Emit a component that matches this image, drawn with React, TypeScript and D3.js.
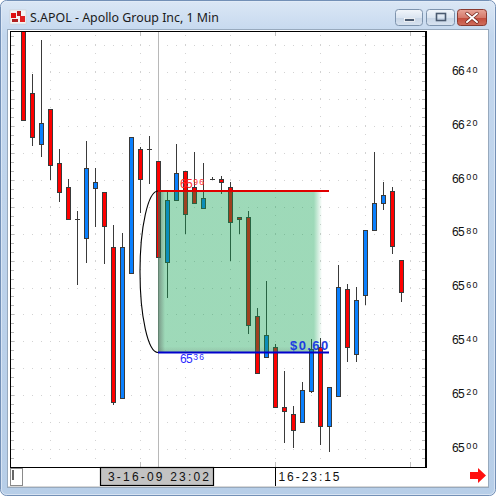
import React from "react";
import * as d3 from "d3";

// One-minute bars, S.APOL
const opens = [
  6662, 6632.2, 6613.2, 6626.2, 6606.2, 6597.2, 6585.4, 6578.3, 6597.1, 6595.4,
  6575.2, 6518.8, 6565.3, 6611.4, 6611.5, 6607.1, 6569.4, 6592.4, 6603.3, 6597.2,
  6589.4, 6600.2, 6600.2, 6597.2, 6586.1, 6586.1, 6549.4, 6534.1, 6538.0, 6515.7,
  6512.9, 6509.9, 6521.6, 6538.0, 6508.6, 6519.8, 6559.3, 6535.2, 6557.1, 6581.3,
  6591.3, 6596.0, 6570.1,
];
const highs = [
  6662, 6639.4, 6652.0, 6626.2, 6611.5, 6600.3, 6588.4, 6614.5, 6604.5, 6595.4,
  6583.2, 6580.1, 6616.1, 6612.3, 6616.3, 6607.1, 6595.5, 6613.3, 6603.3, 6610.3,
  6606.2, 6601.2, 6601.4, 6599.2, 6586.1, 6588.4, 6552.3, 6562.4, 6538.9, 6528.9,
  6516.0, 6524.8, 6540.7, 6541.1, 6522.9, 6568.4, 6561.3, 6560.2, 6581.3, 6610.3,
  6599.1, 6597.2, 6570.1,
];
const lows = [
  6622.3, 6613.0, 6609.0, 6600.2, 6592.3, 6585.4, 6561.2, 6569.4, 6583.0, 6569.2,
  6516.7, 6518.8, 6565.3, 6588.2, 6599.0, 6571.2, 6556.4, 6592.4, 6580.1, 6591.3,
  6589.4, 6600.2, 6595.2, 6570.2, 6580.1, 6543.0, 6528.1, 6534.1, 6515.7, 6502.7,
  6500.6, 6509.9, 6521.0, 6501.7, 6499.3, 6519.8, 6532.8, 6532.8, 6554.0, 6581.3,
  6589.3, 6572.9, 6555.1,
];
const closes = [
  6622.3, 6616.1, 6621.0, 6605.4, 6595.4, 6585.4, 6585.4, 6604.3, 6599.3, 6583.0,
  6517.5, 6575.2, 6616.1, 6600.2, 6611.5, 6571.2, 6592.5, 6602.7, 6587.2, 6591.3,
  6593.2, 6600.2, 6599.1, 6584.2, 6585.4, 6546.1, 6528.1, 6542.3, 6515.7, 6514.1,
  6506.9, 6521.9, 6537.0, 6508.6, 6522.9, 6560.1, 6538.0, 6555.2, 6581.3, 6591.3,
  6594.3, 6575.3, 6558.2,
];

const priceTicks = [6500, 6520, 6540, 6560, 6580, 6600, 6620, 6640];
const gridPrices = d3.range(6500, 6651, 10);
const gridBars = [3, 8, 13, 18, 23, 28, 33, 38, 43];
const majorBars = [13, 28, 43];

const title = "S.APOL - Apollo Group Inc, 1 Min";
const cursorBar = 15;
const cursorLabel = "3-16-09 23:02";
const markerBar = 28;
const markerLabel = "16-23:15";

// measured range (box + lines)
const rangeStartBar = 15;
const rangeBoxEndBar = 33;
const rangeLineEndBar = 34;
const rangeHigh = 6596;
const rangeLow = 6536;

const UP = "#0a80ff";
const DOWN = "#ff0000";
const OUTLINE = "#3a3a3a";
const FONT = "'Liberation Sans', Arial, sans-serif";

function PriceText({ value, x, y, main, sup, fill, supDx }: any) {
  const s = String(value);
  return (
    <text x={x} y={y} fill={fill} fontFamily={FONT} fontSize={main} letterSpacing={-0.6}>
      {s.slice(0, 2)}
      <tspan fontSize={sup} dx={supDx} dy={-2.4} letterSpacing={1.4}>
        {s.slice(2)}
      </tspan>
    </text>
  );
}

export default function App() {
  const W = 496;
  const H = 496;
  const plot = { left: 10, top: 31, right: 426, bottom: 467 };

  const x = d3.scaleLinear().domain([0, opens.length - 1]).range([23.3, 401.3]);
  const y = d3.scaleLinear().domain([6500, 6650]).range([448.9, 45.4]);
  const px = (i: number) => Math.round(x(i));
  const py = (v: number) => Math.round(y(v)) + 0.5;

  const minorTicks = d3.range(6490, 6660, 10 / 3);

  const boxX0 = px(rangeStartBar);
  const boxX1 = px(rangeBoxEndBar) + 2;
  const lineX1 = px(rangeLineEndBar);
  const yHigh = Math.round(y(rangeHigh));
  const yLow = Math.round(y(rangeLow)) + 0.5;
  const diffLabel = `$${((rangeHigh - rangeLow) / 100).toFixed(2)}`;

  return (
    <div style={{ position: "absolute", left: 0, top: 0 }}>
      <svg width={W} height={H} viewBox={`0 0 ${W} ${H}`} style={{ display: "block" }}>
        <defs>
          <linearGradient id="frameGrad" x1="0" y1="0" x2="0" y2="1">
            <stop offset="0" stopColor="#dbe7f5" />
            <stop offset="0.07" stopColor="#c3d7ee" />
            <stop offset="1" stopColor="#b7cee8" />
          </linearGradient>
          <linearGradient id="btnGrad" x1="0" y1="0" x2="0" y2="1">
            <stop offset="0" stopColor="#f2f6fb" />
            <stop offset="0.5" stopColor="#dbe5f1" />
            <stop offset="0.51" stopColor="#c7d5e6" />
            <stop offset="1" stopColor="#d8e3f0" />
          </linearGradient>
          <linearGradient id="closeGrad" x1="0" y1="0" x2="0" y2="1">
            <stop offset="0" stopColor="#e8a598" />
            <stop offset="0.5" stopColor="#d57a6c" />
            <stop offset="0.51" stopColor="#c24a3a" />
            <stop offset="1" stopColor="#d0705e" />
          </linearGradient>
          <linearGradient id="boxGrad" x1="0" y1="0" x2="1" y2="0">
            <stop offset="0" stopColor="rgb(12,161,79)" stopOpacity="0.4" />
            <stop offset="0.95" stopColor="rgb(12,161,79)" stopOpacity="0.4" />
            <stop offset="1" stopColor="rgb(12,161,79)" stopOpacity="0" />
          </linearGradient>
          <linearGradient id="leftShade" x1="0" y1="0" x2="1" y2="0">
            <stop offset="0" stopColor="#505050" stopOpacity="0.5" />
            <stop offset="1" stopColor="#505050" stopOpacity="0" />
          </linearGradient>
          <linearGradient id="bottomShade" x1="0" y1="0" x2="0" y2="1">
            <stop offset="0" stopColor="#606060" stopOpacity="0" />
            <stop offset="1" stopColor="#606060" stopOpacity="0.18" />
          </linearGradient>
          <clipPath id="plotClip">
            <rect x={plot.left + 1} y={plot.top + 1} width={plot.right - plot.left - 2} height={plot.bottom - plot.top - 1} />
          </clipPath>
        </defs>

        {/* window frame */}
        <rect x={0.5} y={0.5} width={W - 1} height={H - 1} rx={6} fill="url(#frameGrad)" stroke="#7390b6" />
        <rect x={1.5} y={1.5} width={W - 3} height={H - 3} rx={5} fill="none" stroke="#e4edf8" strokeOpacity={0.7} />

        {/* title bar */}
        <g>
          <rect x={10} y={10} width={16} height={14} fill="#f4f4f4" stroke="#c8c8c8" strokeWidth={0.5} />
          <rect x={11} y={13} width={5} height={5} fill="#e01010" />
          <rect x={17} y={11} width={4} height={5} fill="#c01818" />
          <rect x={20} y={16} width={5} height={6} fill="#e02020" />
          <rect x={12} y={19} width={6} height={3} fill="#b02020" />
        </g>
        <text x={30} y={22} fontFamily="'Noto Sans', 'Open Sans', sans-serif" fontSize={12.4} fill="#1a1a1a">
          {title}
        </text>
        <rect x={395.5} y={9.5} width={27} height={16} rx={3} fill="url(#btnGrad)" stroke="#7d93ad" />
        <rect x={404.5} y={18.5} width={10} height={3} fill="#4a5a70" stroke="#ffffff" strokeWidth={0.8} />
        <rect x={426.5} y={9.5} width={28} height={16} rx={3} fill="url(#btnGrad)" stroke="#7d93ad" />
        <rect x={436.5} y={13.5} width={9} height={7} fill="none" stroke="#4a5a70" strokeWidth={1.6} />
        <rect x={457.5} y={9.5} width={29} height={16} rx={3} fill="url(#closeGrad)" stroke="#8a3a30" />
        <path d="M467,13.5 L477,22 M477,13.5 L467,22" stroke="#6a2018" strokeWidth={3.4} strokeLinecap="round" />
        <path d="M467,13.5 L477,22 M477,13.5 L467,22" stroke="#ffffff" strokeWidth={2} strokeLinecap="round" />

        {/* client area */}
        <rect x={7.5} y={29.5} width={481} height={458} fill="#ffffff" stroke="#97a9bd" />

        {/* grid */}
        <g clipPath="url(#plotClip)">
          {gridPrices.map((v) => (
            <line key={`h${v}`} x1={14} x2={plot.right} y1={py(v)} y2={py(v)} stroke="#d2d2d2" strokeDasharray="1 8" />
          ))}
          {gridBars.map((b) => (
            <line key={`v${b}`} x1={px(b) + 0.5} x2={px(b) + 0.5} y1={plot.top + 4} y2={plot.bottom} stroke="#d2d2d2" strokeDasharray="1 8" />
          ))}
          {majorBars.map((b) => (
            <g key={`m${b}`}>
              <line x1={px(b) + 0.5} x2={px(b) + 0.5} y1={plot.top} y2={plot.top + 5} stroke="#c0c0c0" />
              <line x1={px(b) + 0.5} x2={px(b) + 0.5} y1={plot.bottom - 5} y2={plot.bottom} stroke="#c0c0c0" />
            </g>
          ))}
          {minorTicks.map((v, k) => (
            <g key={`t${k}`}>
              <line x1={11} x2={14} y1={py(v)} y2={py(v)} stroke="#b8b8b8" />
              <line x1={plot.right - 4} x2={plot.right - 1} y1={py(v)} y2={py(v)} stroke="#b8b8b8" />
            </g>
          ))}

          {/* cursor */}
          <line x1={px(cursorBar) + 0.5} x2={px(cursorBar) + 0.5} y1={plot.top} y2={plot.bottom} stroke="#b8b8b8" />

          {/* candles */}
          {opens.map((o, i) => {
            const c = closes[i];
            const cx = px(i);
            const top = Math.round(y(Math.max(o, c)));
            const bot = Math.round(y(Math.min(o, c)));
            const hi = Math.round(y(highs[i]));
            const lo = Math.round(y(lows[i]));
            const flat = bot - top < 2;
            return (
              <g key={`c${i}`}>
                <line x1={cx + 0.5} x2={cx + 0.5} y1={hi} y2={lo + 1} stroke={OUTLINE} />
                {flat ? (
                  <line x1={cx - 2} x2={cx + 3} y1={top + 0.5} y2={top + 0.5} stroke={OUTLINE} />
                ) : (
                  <rect
                    x={cx - 1.5}
                    y={top + 0.5}
                    width={4}
                    height={bot - top}
                    fill={c >= o ? UP : DOWN}
                    stroke={OUTLINE}
                  />
                )}
              </g>
            );
          })}

          {/* measured range */}
          <rect x={boxX0} y={yHigh} width={boxX1 - boxX0} height={yLow - yHigh} fill="url(#boxGrad)" />
          <rect x={boxX0} y={yHigh} width={7} height={yLow - yHigh} fill="url(#leftShade)" />
          <rect x={boxX0} y={yLow - 6} width={boxX1 - boxX0 - 6} height={6} fill="url(#bottomShade)" />
          <path
            d={`M${boxX0},${yHigh} A18,${(yLow - yHigh) / 2} 0 0 0 ${boxX0},${yLow}`}
            fill="none"
            stroke="#000000"
            strokeWidth={1.1}
          />
          <line x1={boxX0} x2={lineX1} y1={yHigh} y2={yHigh} stroke="#e00000" strokeWidth={2} />
          <line x1={boxX0} x2={lineX1} y1={yLow} y2={yLow} stroke="#0000cc" strokeWidth={2} />
          <PriceText value={rangeHigh} x={180} y={yHigh - 3.3} main={12} sup={8.5} supDx={1} fill="#ff2a2a" />
          <PriceText value={rangeLow} x={180} y={yLow + 10.2} main={12} sup={8.5} supDx={1} fill="#2a2aff" />
          <text
            x={290}
            y={yLow - 2.5}
            fontFamily={FONT}
            fontSize={13}
            fontWeight="bold"
            fill="#1e3ee0"
            letterSpacing={1.4}
          >
            {diffLabel}
          </text>
        </g>

        {/* plot frame */}
        <line x1={plot.left + 0.5} x2={plot.left + 0.5} y1={plot.top} y2={plot.bottom + 1} stroke="#000" />
        <line x1={plot.left} x2={plot.right + 1} y1={plot.top + 0.5} y2={plot.top + 0.5} stroke="#000" />
        <line x1={plot.right} x2={plot.right} y1={plot.top} y2={plot.bottom + 1} stroke="#000" strokeWidth={2} />
        <line x1={plot.left} x2={plot.right + 1} y1={plot.bottom + 0.5} y2={plot.bottom + 0.5} stroke="#000" />

        {/* price axis */}
        {priceTicks.map((v) => (
          <PriceText key={`p${v}`} value={v} x={452} y={y(v) + 2.7} main={12} sup={9} supDx={2} fill="#111" />
        ))}

        {/* time strip */}
        <rect x={10.5} y={468.5} width={12} height={17} fill="#ffffff" stroke="#8a8a8a" />
        <line x1={13} x2={13} y1={470} y2={480} stroke="#000" strokeWidth={1.2} />
        <rect x={100.5} y={467.5} width={113} height={18} fill="#c3c3c3" stroke="#000" strokeWidth={1.2} />
        <text x={108} y={480.5} fontFamily={FONT} fontSize={12} fill="#111" textLength={101} lengthAdjust="spacing">
          {cursorLabel}
        </text>
        <line x1={px(markerBar) + 0.5} x2={px(markerBar) + 0.5} y1={467} y2={486} stroke="#000" />
        <text x={278.5} y={480.5} fontFamily={FONT} fontSize={12} fill="#111" textLength={61} lengthAdjust="spacing">
          {markerLabel}
        </text>
        <path d="M470,472 L478,472 L478,468 L486,475.5 L478,483 L478,479 L470,479 Z" fill="#ff1010" />
        <line x1={8} x2={488} y1={486.5} y2={486.5} stroke="#d8d8d8" />
      </svg>
    </div>
  );
}
